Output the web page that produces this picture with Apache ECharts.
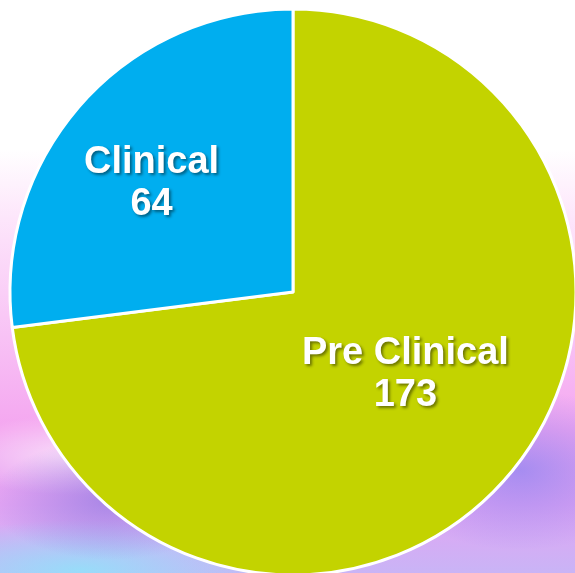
<!DOCTYPE html>
<html>
<head>
<meta charset="utf-8">
<script src="https://cdn.jsdelivr.net/npm/echarts@6/dist/echarts.min.js"></script>
<style>
html,body{margin:0;padding:0;width:575px;height:573px;overflow:hidden;}
body{
  background:
    radial-gradient(ellipse 120px 60px at 110px 500px, rgba(120,110,220,0.55), rgba(120,110,220,0) 100%),
    radial-gradient(ellipse 140px 80px at 520px 470px, rgba(110,120,240,0.55), rgba(110,120,240,0) 100%),
    radial-gradient(ellipse 200px 50px at 80px 570px, rgba(140,230,250,0.8), rgba(140,230,250,0) 100%),
    radial-gradient(ellipse 120px 40px at 70px 455px, rgba(255,255,255,0.6), rgba(255,255,255,0) 100%),
    linear-gradient(to bottom, #ffffff 0%, #ffffff 26%, #fde6fb 38%, #f9c8f6 55%, #f4a6f0 75%, #e3a4f3 88%, #c9b4f6 100%);
}
#chart{width:575px;height:573px;}
</style>
</head>
<body>
<div id="chart"></div>
<script>
var categories = ['Pre Clinical', 'Clinical'];
var values = [173, 64];
var colors = ['#c3d300', '#00aeef'];

var chart = echarts.init(document.getElementById('chart'), null, {renderer: 'canvas'});
var txt = {
  color: '#ffffff',
  fontFamily: 'Liberation Sans, Arial, sans-serif',
  fontWeight: 'bold',
  fontSize: 38,
  lineHeight: 42,
  textShadowColor: 'rgba(0,0,0,0.45)',
  textShadowBlur: 3,
  textShadowOffsetX: 2,
  textShadowOffsetY: 2
};
var labelBase = {
  show: true,
  position: 'inside',
  formatter: '{t|{b}}\n{t|{c}}\n{s| }',
  rich: {
    t: txt,
    s: {fontSize: 10, lineHeight: 26}
  },
  textBorderWidth: 0
};
var paddings = [[0, 0, 0, 8], [0, 66, 0, 0]];
chart.setOption({
  backgroundColor: 'transparent',
  animation: false,
  series: [{
    type: 'pie',
    center: [293, 292],
    radius: [0, 283],
    startAngle: 90,
    clockwise: true,
    label: labelBase,
    labelLine: {show: false},
    itemStyle: {borderColor: '#ffffff', borderWidth: 3},
    data: categories.map(function (c, i) {
      return {
        name: c,
        value: values[i],
        itemStyle: {color: colors[i]},
        label: {padding: paddings[i]}
      };
    })
  }]
});
</script>
</body>
</html>
